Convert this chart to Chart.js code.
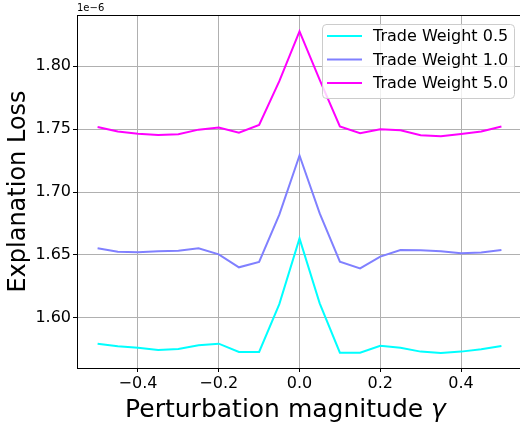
<!DOCTYPE html>
<html>
<head>
<meta charset="utf-8">
<script src="https://cdn.jsdelivr.net/npm/chart.js@4"></script>
<style>
html,body{margin:0;padding:0;background:#fff;}
#wrap{width:520px;height:425px;position:relative;}
</style>
</head>
<body>
<div id="wrap"><canvas id="c" width="520" height="425"></canvas></div>
<script>
// Perturbation magnitudes (gamma)
const gammas = [-0.5,-0.45,-0.4,-0.35,-0.3,-0.25,-0.2,-0.15,-0.1,-0.05,0,0.05,0.1,0.15,0.2,0.25,0.3,0.35,0.4,0.45,0.5];
// Explanation loss, in units of 1e-6
const lossTW05 = [1.5796,1.5775,1.5764,1.5746,1.5754,1.5783,1.5796,1.5730,1.5730,1.6110,1.6632,1.6116,1.5725,1.5725,1.5780,1.5764,1.5733,1.5722,1.5733,1.5751,1.5777];
const lossTW10 = [1.6553,1.6526,1.6521,1.6529,1.6534,1.6553,1.6505,1.6402,1.6445,1.6820,1.7290,1.6830,1.6447,1.6394,1.6487,1.6540,1.6537,1.6530,1.6513,1.6520,1.6540];
const lossTW50 = [1.7516,1.7480,1.7462,1.7452,1.7458,1.7495,1.7512,1.7470,1.7533,1.7880,1.8275,1.7890,1.7520,1.7466,1.7498,1.7490,1.7450,1.7443,1.7460,1.7480,1.7520];
const seriesLabels = ["Trade Weight 0.5","Trade Weight 1.0","Trade Weight 5.0"];
const xTicks = [-0.4,-0.2,0.0,0.2,0.4];
const yTicks = [1.60,1.65,1.70,1.75,1.80];
const colors = ["#00ffff","#8080ff","#ff00ff"];
const xTitleText = "Perturbation magnitude ";
const xTitleSymbol = "\u03b3";

const FONT = "'DejaVu Sans', sans-serif";
const mk = (arr) => arr.map((v,i)=>({x:gammas[i], y:v}));

const extras = {
  id:'extras',
  afterDraw(chart){
    const ctx = chart.ctx, a = chart.chartArea;
    ctx.save();
    // top spine
    ctx.strokeStyle = '#000'; ctx.lineWidth = 1;
    ctx.beginPath(); ctx.moveTo(a.left, a.top+0.5); ctx.lineTo(a.right, a.top+0.5); ctx.stroke();
    // offset text
    ctx.fillStyle = '#000'; ctx.font = "10px " + FONT;
    ctx.textAlign = 'left'; ctx.textBaseline = 'bottom';
    ctx.fillText('1e\u22126', a.left, a.top - 2);
    // x axis title with italic gamma
    ctx.font = "25px " + FONT;
    const w1 = ctx.measureText(xTitleText).width;
    ctx.font = "italic 25px " + FONT;
    const w2 = ctx.measureText(xTitleSymbol).width;
    const startX = 285.5 - (w1 + w2) / 2;
    ctx.textBaseline = 'alphabetic'; ctx.textAlign = 'left';
    ctx.font = "25px " + FONT;
    ctx.fillText(xTitleText, startX, 417);
    ctx.font = "italic 25px " + FONT;
    ctx.fillText(xTitleSymbol, startX + w1, 417);
    // legend
    const bx = 322, by = 24, bw = 192, bh = 74, r = 4;
    ctx.fillStyle = 'rgba(255,255,255,0.8)';
    ctx.strokeStyle = '#cccccc'; ctx.lineWidth = 1;
    ctx.beginPath();
    ctx.moveTo(bx+r, by+0.5); ctx.lineTo(bx+bw-r, by+0.5);
    ctx.arcTo(bx+bw+0.5, by+0.5, bx+bw+0.5, by+r, r);
    ctx.lineTo(bx+bw+0.5, by+bh-r);
    ctx.arcTo(bx+bw+0.5, by+bh+0.5, bx+bw-r, by+bh+0.5, r);
    ctx.lineTo(bx+r, by+bh+0.5);
    ctx.arcTo(bx+0.5, by+bh+0.5, bx+0.5, by+bh-r, r);
    ctx.lineTo(bx+0.5, by+r);
    ctx.arcTo(bx+0.5, by+0.5, bx+r, by+0.5, r);
    ctx.closePath(); ctx.fill(); ctx.stroke();
    const rows = [36, 59.5, 83];
    ctx.font = "16px " + FONT; ctx.textBaseline = 'middle'; ctx.fillStyle = '#000';
    chart.data.datasets.forEach((ds, i) => {
      ctx.strokeStyle = ds.borderColor; ctx.lineWidth = 2;
      ctx.beginPath(); ctx.moveTo(327, rows[i]); ctx.lineTo(362, rows[i]); ctx.stroke();
      ctx.fillStyle = '#000';
      ctx.fillText(ds.label, 373, rows[i] + 1);
    });
    ctx.restore();
  }
};

new Chart(document.getElementById('c'), {
  type: 'line',
  data: {
    datasets: [
      {label: seriesLabels[0], data: mk(lossTW05), borderColor: colors[0]},
      {label: seriesLabels[1], data: mk(lossTW10), borderColor: colors[1]},
      {label: seriesLabels[2], data: mk(lossTW50), borderColor: colors[2]}
    ].map(d => Object.assign(d, {borderWidth: 2, pointRadius: 0, fill: false, tension: 0}))
  },
  options: {
    responsive: false,
    animation: false,
    layout: {padding: {top: 15, right: 0, left: 0, bottom: 0}},
    plugins: {legend: {display: false}, tooltip: {enabled: false}},
    scales: {
      x: {
        type: 'linear', min: -0.551, max: 0.546,
        afterBuildTicks: s => { s.ticks = xTicks.map(v => ({value: v})); },
        afterFit: s => { s.height = 57; },
        grid: {color: '#b0b0b0', lineWidth: 1, tickLength: 4, tickColor: '#000', drawTicks: true},
        border: {color: '#000', width: 1},
        ticks: {
          color: '#000', font: {family: FONT, size: 16}, padding: 2, maxRotation: 0,
          callback: v => (Math.abs(v) < 1e-9 ? '0.0' : (v < 0 ? '\u2212' + Math.abs(v).toFixed(1) : v.toFixed(1)))
        },
        title: {display: false}
      },
      y: {
        type: 'linear', min: 1.5603, max: 1.8405,
        afterBuildTicks: s => { s.ticks = yTicks.map(v => ({value: v})); },
        afterFit: s => { s.width = 77; },
        grid: {color: '#b0b0b0', lineWidth: 1, tickLength: 4, tickColor: '#000', drawTicks: true},
        border: {color: '#000', width: 1},
        ticks: {color: '#000', font: {family: FONT, size: 16}, padding: 2, callback: v => v.toFixed(2)},
        title: {display: true, text: 'Explanation Loss', color: '#000', font: {family: FONT, size: 24}, padding: {top: 4, bottom: 4}}
      }
    }
  },
  plugins: [extras]
});
</script>
</body>
</html>
